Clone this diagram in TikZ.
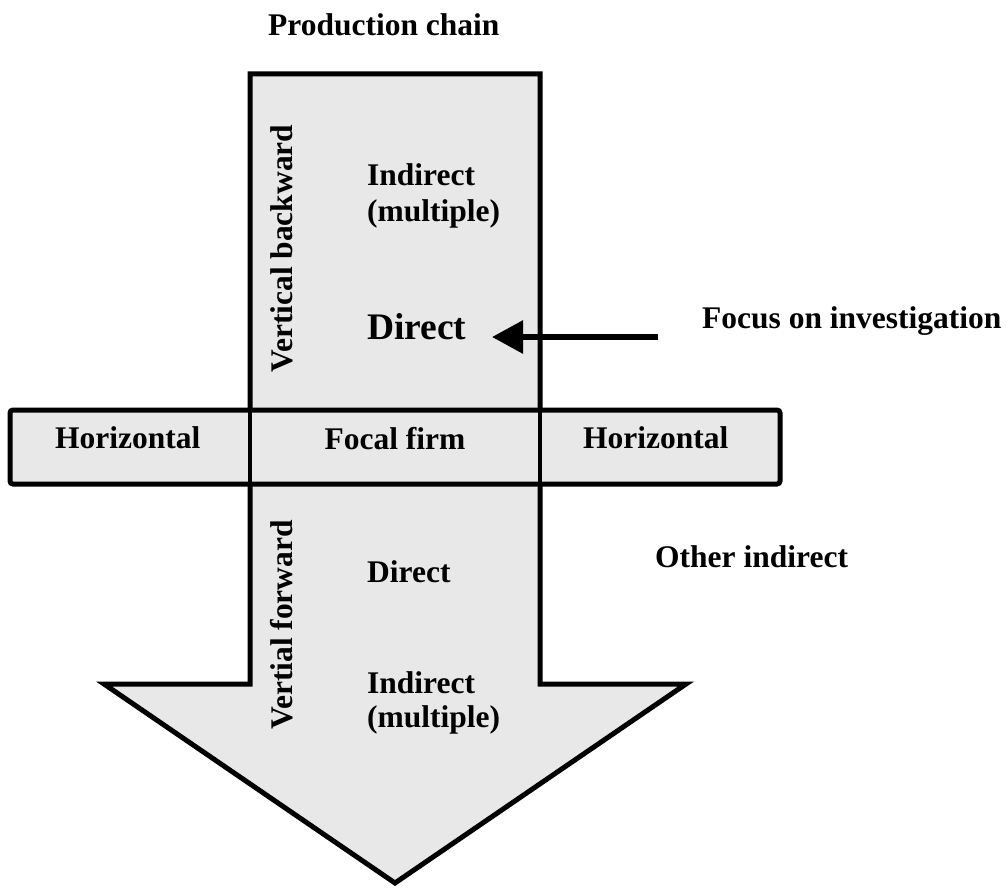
\documentclass[tikz,border=0pt]{standalone}
\usepackage{fontspec}
\setmainfont{Liberation Serif}
\usetikzlibrary{arrows.meta}
\definecolor{chainfill}{RGB}{232,232,232}
\begin{document}
\begin{tikzpicture}[x=1pt,y=-1pt,
  lbl/.style={font=\bfseries\fontsize{31.5}{36}\selectfont, inner sep=0pt, anchor=base west},
  biglbl/.style={font=\bfseries\fontsize{37.5}{42}\selectfont, inner sep=0pt, anchor=base west},
  outline/.style={draw=black, line width=5pt, fill=chainfill, line join=miter, miter limit=20},
  divider/.style={draw=black, line width=3.5pt},
  focusarrow/.style={draw=black, line width=6pt, -{Triangle[length=31pt,width=32pt]}},
]
\useasboundingbox (0,0) rectangle (1006,888);

% production chain arrow (shaft and head)
\draw[outline] (250,74) -- (540,74) -- (540,684) -- (686,684) -- (395,883)
  -- (104,684) -- (250,684) -- cycle;

% horizontal band through the focal firm
\draw[outline, rounded corners=3pt] (10,410) rectangle (780,484);
\draw[divider] (250,410) -- (250,484);
\draw[divider] (540,410) -- (540,484);

% labels
\node[lbl] (title) at (268,36) {Production chain};
\node[lbl, rotate=90] (vback) at (292,373) {Vertical backward};
\node[lbl] (upind) at (367,185) {Indirect};
\node[lbl] (upmult) at (367,221) {(multiple)};
\node[biglbl] (updirect) at (367,339) {Direct};
\node[lbl] (focus) at (702,328) {Focus on investigation};

\node[lbl] (hleft) at (55,448) {Horizontal};
\node[font=\bfseries\fontsize{31.5}{36}\selectfont, inner sep=0pt, anchor=base] (focal) at (395,449) {Focal firm};
\node[lbl] (hright) at (583,448) {Horizontal};

\node[lbl, rotate=90] (vfwd) at (292,730) {Vertial forward};
\node[lbl] (lodirect) at (367,582) {Direct};
\node[lbl] (loind) at (367,693) {Indirect};
\node[lbl] (lomult) at (367,727) {(multiple)};
\node[lbl] (other) at (655,567) {Other indirect};

% arrow pointing at the direct level
\coordinate (fstart) at (658,337);
\coordinate (fend) at (492,337);
\draw[focusarrow] (fstart) -- (fend);
\end{tikzpicture}
\end{document}
